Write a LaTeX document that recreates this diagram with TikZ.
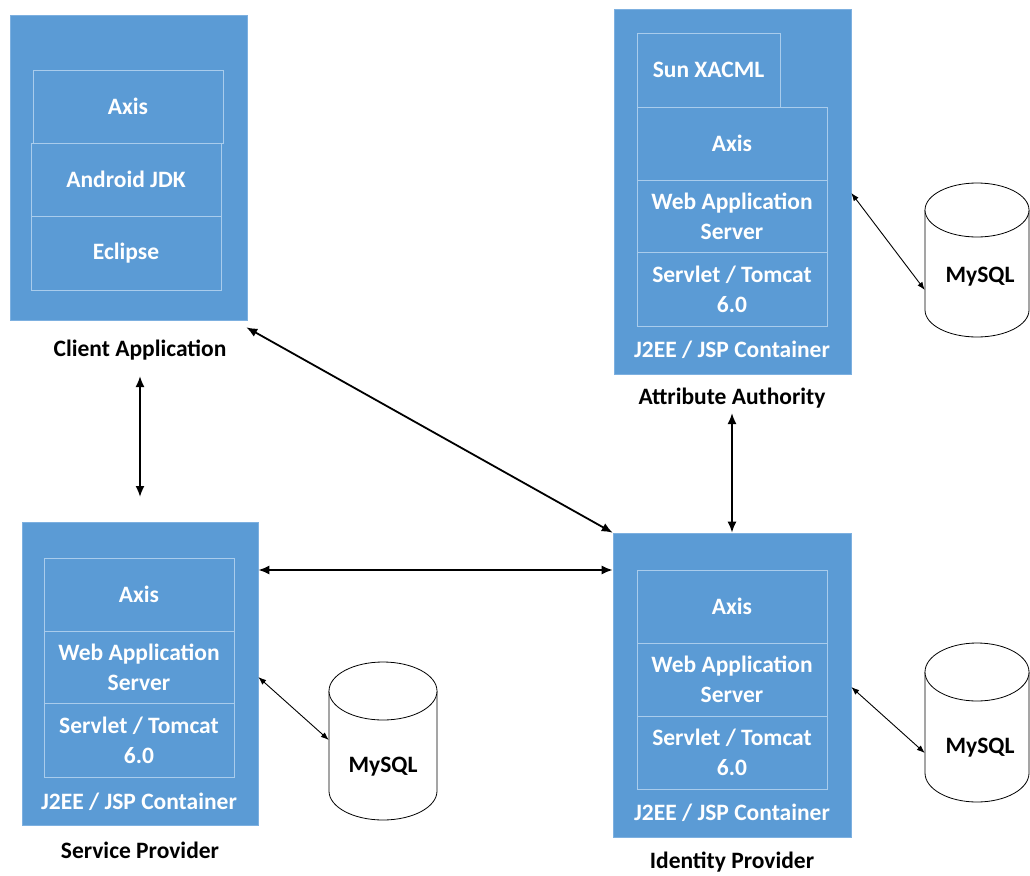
\documentclass[tikz,border=0pt]{standalone}
\usepackage{fontspec}
\setmainfont{Carlito}
\usetikzlibrary{arrows.meta,calc}
\definecolor{boxblue}{HTML}{5B9BD5}
\definecolor{boxedge}{HTML}{7DB0E0}
\definecolor{layerline}{HTML}{A9CCEC}
\begin{document}
\begin{tikzpicture}[x=1pt,y=-1pt,
  outerbox/.style={fill=boxblue, draw=boxedge, line width=0.6pt, inner sep=0pt},
  layer/.style={draw=layerline, line width=0.8pt, text=white, font=\fontsize{23.5}{30}\selectfont\bfseries, align=center, inner sep=0pt, minimum width=190pt},
  capt/.style={font=\fontsize{23.5}{30}\selectfont\bfseries, text=black},
  cont/.style={font=\fontsize{23.5}{30}\selectfont\bfseries, text=white},
  dbbox/.style={inner sep=0pt},
  dbline/.style={draw=black, line width=0.8pt, fill=white},
  dbtext/.style={font=\fontsize{23.5}{30}\selectfont\bfseries, text=black},
  conn/.style={line width=1.8pt, {Latex[length=11pt,width=9pt]}-{Latex[length=11pt,width=9pt]}},
  dbconn/.style={line width=0.9pt, {Latex[length=8pt,width=6pt]}-{Latex[length=8pt,width=6pt]}}]
\useasboundingbox[fill=white] (0,0) rectangle (1030,875);

% Client Application
\node[outerbox, minimum width=237pt, minimum height=305pt] (ca) at (128.5,167.5) {};
\node[layer, minimum height=73pt] (caAxis) at (128,106.5) {Axis};
\node[layer, minimum height=73pt] (caJdk) at (126,179.5) {Android JDK};
\node[layer, minimum height=74pt] (caEcl) at (126,253) {Eclipse};
\node[capt] (caLbl) at (140,350) {Client Application};

% Attribute Authority
\node[outerbox, minimum width=237pt, minimum height=365pt] (aa) at (732.5,191.5) {};
\node[layer, minimum width=143pt, minimum height=74pt] (aaXacml) at (708.5,70) {Sun XACML};
\node[layer, minimum height=73pt] (aaAxis) at (732,143.5) {Axis};
\node[layer, minimum height=72pt] (aaWeb) at (732,216) {Web Application\\Server};
\node[layer, minimum height=74pt] (aaSrv) at (732,289) {Servlet / Tomcat\\6.0};
\node[cont] (aaCont) at (732,350) {J2EE / JSP Container};
\node[capt] (aaLbl) at (732,398) {Attribute Authority};

% Service Provider
\node[outerbox, minimum width=236pt, minimum height=303pt] (sp) at (140,673.5) {};
\node[layer, minimum height=73pt] (spAxis) at (139,594.5) {Axis};
\node[layer, minimum height=72pt] (spWeb) at (139,667) {Web Application\\Server};
\node[layer, minimum height=74pt] (spSrv) at (139,740) {Servlet / Tomcat\\6.0};
\node[cont] (spCont) at (139,802) {J2EE / JSP Container};
\node[capt] (spLbl) at (140,850) {Service Provider};

% Identity Provider
\node[outerbox, minimum width=238pt, minimum height=304pt] (idp) at (732,685) {};
\node[layer, minimum height=73pt] (idpAxis) at (732,606.5) {Axis};
\node[layer, minimum height=73pt] (idpWeb) at (732,679.5) {Web Application\\Server};
\node[layer, minimum height=73pt] (idpSrv) at (732,752.5) {Servlet / Tomcat\\6.0};
\node[cont] (idpCont) at (732,813) {J2EE / JSP Container};
\node[capt] (idpLbl) at (732,862) {Identity Provider};

% Databases
\node[dbbox, minimum width=104pt, minimum height=154pt] (aaDb) at (977,260) {};
\draw[dbline] (925,210) -- (925,310) arc[start angle=180,end angle=360,x radius=52pt,y radius=27pt] -- (1029,210);
\draw[dbline] (977,210) ellipse [x radius=52pt, y radius=27pt];
\node[dbtext] (aaDbT) at (980,277) {MySQL};

\node[dbbox, minimum width=108pt, minimum height=158pt] (spDb) at (383,741) {};
\draw[dbline] (329,691) -- (329,791) arc[start angle=180,end angle=360,x radius=54pt,y radius=29pt] -- (437,691);
\draw[dbline] (383,691) ellipse [x radius=54pt, y radius=29pt];
\node[dbtext] (spDbT) at (383,767) {MySQL};

\node[dbbox, minimum width=104pt, minimum height=159pt] (idpDb) at (977,722.5) {};
\draw[dbline] (925,672) -- (925,773) arc[start angle=180,end angle=360,x radius=52pt,y radius=29pt] -- (1029,672);
\draw[dbline] (977,672) ellipse [x radius=52pt, y radius=29pt];
\node[dbtext] (idpDbT) at (980,748) {MySQL};

% Connectors
\draw[conn] (caLbl.south |- 0,376) -- (sp.north |- 0,497);
\draw[conn] (aaLbl.south |- 0,413) -- (idp.north);
\draw[conn] ([shift={(-1,7)}]ca.south east) -- (idp.north west);
\draw[conn] (sp.east |- 0,570) -- (idp.west |- 0,570);
\draw[dbconn] (aa.east |- 0,193) -- (aaDb.west |- 0,290);
\draw[dbconn] (sp.east |- 0,677) -- (spDb.west |- 0,740);
\draw[dbconn] (idp.east |- 0,687) -- (idpDb.west |- 0,753);
\end{tikzpicture}
\end{document}
